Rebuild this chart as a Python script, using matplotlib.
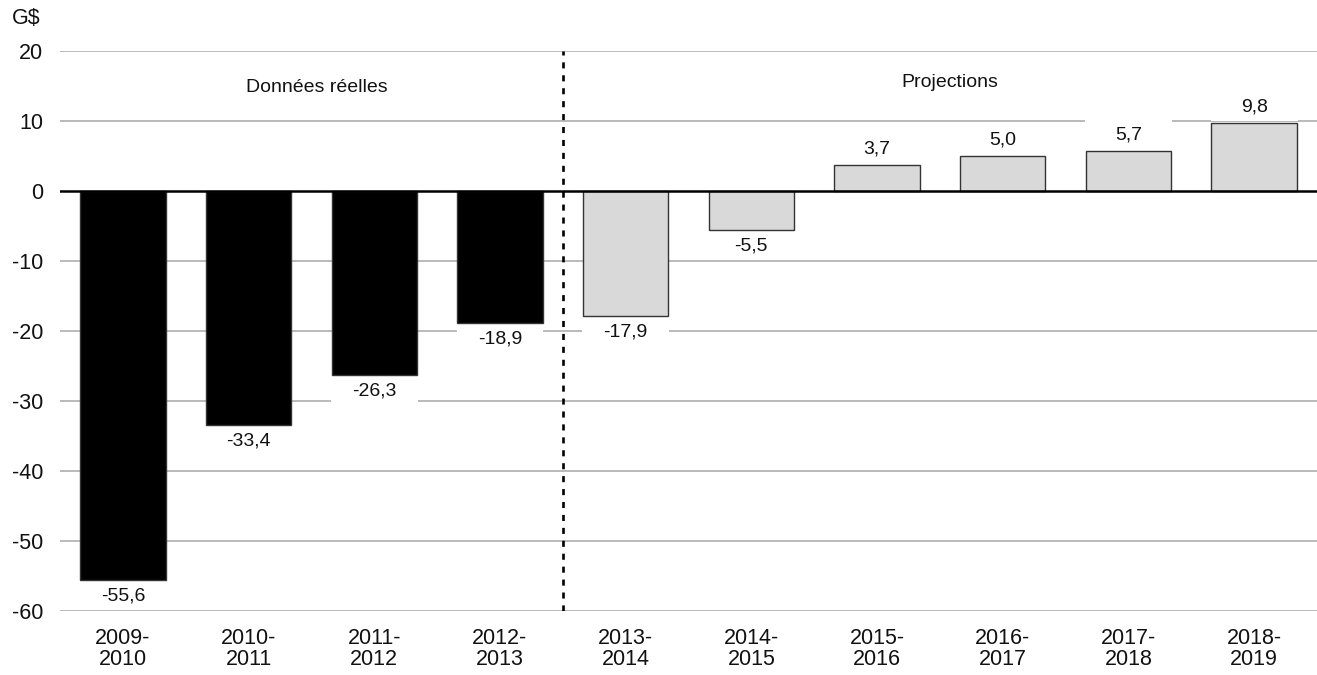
import numpy as np
from matplotlib import pyplot as plt

plt.rcParams['font.family'] = ['Liberation Sans', 'DejaVu Sans']
plt.rcParams['axes.unicode_minus'] = False

years = ["2009-\n2010", "2010-\n2011", "2011-\n2012", "2012-\n2013", "2013-\n2014",
         "2014-\n2015", "2015-\n2016", "2016-\n2017", "2017-\n2018", "2018-\n2019"]
balance = [-55.6, -33.4, -26.3, -18.9, -17.9, -5.5, 3.7, 5.0, 5.7, 9.8]
n_actual = 4  # first 4 are actual data, rest are projections

x = np.arange(len(years))
vals = np.array(balance)

fig = plt.figure(figsize=(13.17, 6.75), dpi=100)
ax = fig.add_axes([0.0456, 0.095, 0.9544, 0.829])

# grid
for g in range(-60, 21, 10):
    if g != 0:
        ax.axhline(g, color="#b4b4b4", lw=1.3, zorder=1.5 if g == -60 else 0)

colors = ["black"] * n_actual + ["#d9d9d9"] * (len(years) - n_actual)
ax.bar(x, vals, width=0.68, color=colors, edgecolor="#333333", linewidth=1.0, zorder=2)
ax.axhline(0, color="black", lw=1.8, zorder=3)

# value labels (white boxes cut the gridlines)
off = 2.3
ly = np.where(vals < 0, vals - off, vals + off)
ax.bar(x, 4.4, bottom=ly - 2.0, width=0.69, color="white", zorder=1)
for xi, v, yy in zip(x, vals, ly):
    ax.text(xi, yy, f"{v:.1f}".replace(".", ","), ha="center", va="center",
            fontsize=14, color="#111111", zorder=4)

# split between actual and projected
ax.plot([n_actual - 0.5, n_actual - 0.5], [-60, 20], color="black", lw=1.9,
        linestyle=(0, (2.3, 2.6)), zorder=5)

ax.text(1.54, 14.8, "Données réelles", ha="center", va="center", fontsize=14, color="#111111")
ax.text(6.58, 15.5, "Projections", ha="center", va="center", fontsize=14, color="#111111")

ax.set_xlim(-0.5, 9.5)
ax.set_ylim(-60, 20)
ax.set_yticks(range(-60, 21, 10))
ax.set_xticks(x)
ax.set_xticklabels(years, fontsize=15.5, linespacing=1.0)
ax.tick_params(axis="both", length=0, labelsize=15.5, colors="#111111")
ax.tick_params(axis="x", pad=12)
ax.tick_params(axis="y", pad=12)
for s in ax.spines.values():
    s.set_visible(False)

fig.text(0.009, 0.973, "G$", fontsize=15.5, va="center", ha="left", color="#111111")

fig.savefig("out.png", dpi=100)
